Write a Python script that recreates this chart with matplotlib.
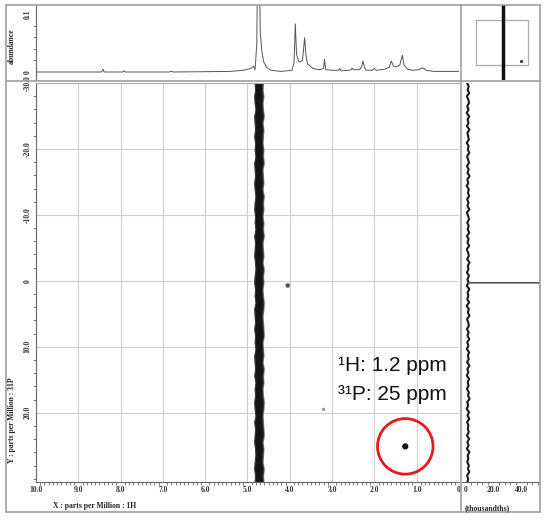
import numpy as np
import matplotlib.pyplot as plt
from matplotlib.lines import Line2D
from matplotlib.ticker import MultipleLocator, FixedLocator

# ---- data ----
# 1H projection (top): ppm and abundance
h_ppm = [10.0, 8.45, 8.42, 8.39, 7.95, 7.92, 7.89, 6.85, 6.80, 6.75, 5.40, 5.10,
         4.92, 4.86, 4.82, 4.78, 4.76, 4.72, 4.70, 4.66, 4.62, 4.55, 4.45, 4.20,
         3.95, 3.90, 3.87, 3.84, 3.78, 3.70, 3.65, 3.62, 3.58, 3.45, 3.30, 3.20,
         3.18, 3.15, 3.00, 2.85, 2.82, 2.79, 2.60, 2.55, 2.53, 2.50, 2.35, 2.30,
         2.27, 2.24, 2.20, 2.05, 2.00, 1.95, 1.75, 1.65, 1.60, 1.55, 1.48, 1.40,
         1.34, 1.30, 1.22, 1.10, 0.95, 0.90, 0.85, 0.78, 0.60, 0.0]
h_int = [0.000, 0.000, 0.005, 0.000, 0.000, 0.002, 0.000, 0.000, 0.001, 0.000, 0.001, 0.003,
         0.006, 0.010, 0.004, 0.050, 0.200, 0.200, 0.070, 0.036, 0.018, 0.008, 0.003, 0.001,
         0.003, 0.015, 0.083, 0.030, 0.017, 0.020, 0.059, 0.030, 0.014, 0.006, 0.004, 0.006,
         0.022, 0.004, 0.003, 0.003, 0.006, 0.002, 0.003, 0.004, 0.007, 0.004, 0.004, 0.010,
         0.019, 0.010, 0.003, 0.003, 0.006, 0.003, 0.005, 0.008, 0.019, 0.010, 0.009, 0.012,
         0.029, 0.012, 0.005, 0.003, 0.004, 0.006, 0.007, 0.003, 0.001, 0.001]

# t1-noise ridge at the solvent line (edges in 1H ppm, top to bottom along 31P)
ridge_left = [4.83, 4.82, 4.84, 4.83, 4.81, 4.84, 4.83, 4.82, 4.84, 4.82, 4.83, 4.81, 4.84,
              4.83, 4.82, 4.84, 4.83, 4.81, 4.83, 4.84, 4.82, 4.83, 4.81, 4.84, 4.82, 4.83,
              4.84, 4.82, 4.81, 4.83, 4.84, 4.82, 4.83, 4.81, 4.84, 4.83, 4.82, 4.84, 4.82,
              4.83, 4.81, 4.84, 4.83, 4.82, 4.84, 4.81, 4.83, 4.82, 4.84, 4.83, 4.81, 4.84,
              4.82, 4.83, 4.84, 4.82, 4.81, 4.83, 4.84, 4.82, 4.83]
ridge_right = [4.65, 4.66, 4.64, 4.66, 4.65, 4.63, 4.66, 4.64, 4.65, 4.66, 4.64, 4.65, 4.63,
               4.66, 4.65, 4.64, 4.66, 4.63, 4.65, 4.64, 4.66, 4.64, 4.65, 4.63, 4.66, 4.65,
               4.64, 4.66, 4.63, 4.65, 4.64, 4.66, 4.65, 4.63, 4.64, 4.66, 4.65, 4.64, 4.63,
               4.66, 4.65, 4.64, 4.66, 4.63, 4.65, 4.64, 4.66, 4.65, 4.63, 4.64, 4.66, 4.65,
               4.64, 4.63, 4.66, 4.64, 4.65, 4.66, 4.63, 4.65, 4.64]

# 31P projection (right), thousandths, top to bottom
proj_val = [0.8, 2.0, 1.1, 2.4, 0.6, 1.7, 2.2, 0.9, 1.9, 0.5, 2.3, 1.2, 1.8, 0.7, 2.5, 1.0, 1.6, 2.1, 0.6, 1.9,
            1.3, 2.4, 0.8, 1.5, 2.2, 0.7, 2.0, 1.1, 2.6, 0.9, 1.7, 0.5, 2.1, 1.4, 2.3, 0.8, 1.8, 1.0, 2.5, 0.6,
            1.6, 2.2, 0.9, 2.0, 1.2, 2.4, 0.7, 1.9, 1.1, 2.3, 0.6, 1.5, 2.1, 0.8, 2.6, 1.3, 1.8, 0.7, 2.2, 1.0,
            1.9, 0.6, 2.4, 1.2, 1.7, 0.9, 2.3, 0.5, 2.0, 1.4, 2.5, 0.8, 1.6, 2.1, 0.7, 1.9, 1.1, 2.4, 0.9, 1.8,
            0.6, 2.2, 1.3, 2.0, 0.8, 2.5, 1.0, 1.7, 0.6, 2.3, 1.2, 1.9, 0.7, 2.1, 1.5, 2.6, 0.9, 1.6, 0.5, 2.2,
            1.1, 2.4, 0.8, 1.8, 1.3, 2.0, 0.7, 2.3, 1.0, 1.9, 0.6, 2.5, 1.2, 1.7, 0.9, 2.1, 1.4, 2.4, 0.8, 1.6, 1.1]
spike_p = [0.27, 0.3, 0.33]
spike_val = [2.0, 300.0, 2.0]

# cross peaks (1H ppm, 31P ppm)
peak_h = [4.05, 3.2, 1.27]
peak_p = [0.7, 19.5, 25.1]
peak_s = [5, 2, 12]

x_ticks = [10, 9, 8, 7, 6, 5, 4, 3, 2, 1, 0]
x_labels = ['10.0', '9.0', '8.0', '7.0', '6.0', '5.0', '4.0', '3.0', '2.0', '1.0', '0']
y_ticks = [-30, -20, -10, 0, 10, 20]
y_labels = ['-30.0', '-20.0', '-10.0', '0', '10.0', '20.0']

# ---- layout ----
W, H = 550, 520
def rect(x0, y0, x1, y1):
    return [x0 / W, 1 - y1 / H, (x1 - x0) / W, (y1 - y0) / H]

fig = plt.figure(figsize=(5.5, 5.2), dpi=100)
fig.patch.set_facecolor('white')
tickfont = dict(family='Liberation Serif', weight='bold', size=5.5, color='#333333')
spc = '#666666'

ax = fig.add_axes(rect(36, 83, 459, 482))
top = fig.add_axes(rect(36, 5, 459, 80))
rgt = fig.add_axes(rect(462, 83, 540, 482))
cor = fig.add_axes(rect(462, 5, 540, 80))

P_LIM = (30.5, -30)
H_LIM = (10, 0)

# main 2D
ax.set_xlim(*H_LIM)
ax.set_ylim(*P_LIM)
ax.grid(True, color='#cfcfcf', lw=0.8)
ax.set_axisbelow(True)
ridge_p = np.linspace(-30, 30.5, len(ridge_left))
ax.fill_betweenx(ridge_p, np.array(ridge_left) + 0.015, np.array(ridge_right) - 0.03,
                 color='#777777', lw=0)
ax.fill_betweenx(ridge_p, ridge_left, ridge_right, color='#151515', lw=0.6,
                 edgecolor='#333333')
ax.scatter(peak_h, peak_p, s=peak_s, color=['#555555', '#999999', '#111111'], zorder=3)
ax.scatter([peak_h[2]], [peak_p[2]], s=1600, facecolors='none', edgecolors='#e41b1b',
           linewidths=2, zorder=4)
ax.text(0.3, 13.6, '\u00b9H: 1.2 ppm', ha='right', va='baseline',
        fontsize=15, family='Liberation Sans', color='#111111')
ax.text(0.3, 18.1, '\u00b3\u00b9P: 25 ppm', ha='right', va='baseline',
        fontsize=15, family='Liberation Sans', color='#111111')
ax.xaxis.set_major_locator(FixedLocator(x_ticks))
ax.set_xticklabels(x_labels, **tickfont)
ax.xaxis.set_minor_locator(MultipleLocator(0.1))
ax.yaxis.set_major_locator(FixedLocator(y_ticks))
ax.set_yticklabels(y_labels, rotation=90, va='center', **tickfont)
ax.yaxis.set_minor_locator(MultipleLocator(2))
ax.tick_params(which='both', color=spc, width=0.6, pad=3)
ax.tick_params(which='major', length=0)
ax.tick_params(which='minor', length=2)
ax.spines['right'].set_visible(False)
ax.spines['top'].set_color('#aaaaaa')
for s in ['left', 'bottom']:
    ax.spines[s].set_color(spc)
    ax.spines[s].set_linewidth(0.8)

# top 1H trace
top.plot(h_ppm, h_int, color='#555555', lw=0.7)
top.set_xlim(*H_LIM)
top.set_ylim(-0.0138, 0.1155)
top.set_xticks([])
top.yaxis.set_major_locator(FixedLocator([0, 0.1]))
top.set_yticklabels(['0', '0.1'], rotation=90, va='center', **tickfont)
top.yaxis.set_minor_locator(MultipleLocator(0.02))
top.tick_params(which='both', color=spc, width=0.6, pad=3)
top.tick_params(which='major', length=0)
top.tick_params(which='minor', length=2)
for s in ['top', 'right', 'bottom']:
    top.spines[s].set_visible(False)
top.spines['left'].set_color(spc)
top.spines['left'].set_linewidth(0.8)

# right 31P projection
proj_p = np.linspace(-30, 30.5, len(proj_val))
rgt.plot(proj_val, proj_p, color='#1a1a1a', lw=1.5)
rgt.plot(spike_val, spike_p, color='#555555', lw=0.7)
rgt.set_xlim(-2.9, 53.8)
rgt.set_ylim(*P_LIM)
rgt.set_yticks([])
rgt.xaxis.set_major_locator(FixedLocator([0, 20, 40]))
rgt.set_xticklabels(['0', '20.0', '40.0'], **tickfont)
rgt.xaxis.set_minor_locator(MultipleLocator(4))
rgt.tick_params(which='both', color=spc, width=0.6, pad=3)
rgt.tick_params(which='major', length=0)
rgt.tick_params(which='minor', length=2)
for s in ['top', 'right', 'left']:
    rgt.spines[s].set_visible(False)
rgt.spines['bottom'].set_color(spc)
rgt.spines['bottom'].set_linewidth(0.8)

# overview thumbnail
cor.set_xlim(12.7, -2.3)
cor.set_ylim(50.7, -50.2)
cor.plot([H_LIM[0], H_LIM[1], H_LIM[1], H_LIM[0], H_LIM[0]],
         [P_LIM[1], P_LIM[1], P_LIM[0], P_LIM[0], P_LIM[1]], color='#aaaaaa', lw=0.9)
cor.axvline(np.mean(ridge_left + ridge_right), color='#111111', lw=2.5)
cor.scatter([peak_h[2]], [peak_p[2]], s=1.5, color='#333333')
cor.axis('off')

# frame and dividers
def hline(y, x0, x1, c='#a0a0a0', lw=1.2):
    fig.add_artist(Line2D([x0 / W, x1 / W], [1 - y / H, 1 - y / H], color=c, lw=lw))
def vline(x, y0, y1, c='#a0a0a0', lw=1.2):
    fig.add_artist(Line2D([x / W, x / W], [1 - y0 / H, 1 - y1 / H], color=c, lw=lw))
hline(5, 6, 540)
hline(512, 6, 540)
vline(6, 5, 512)
vline(540, 5, 512)
hline(80.5, 6, 540)
vline(461, 5, 512)

lab = dict(family='Liberation Serif', weight='bold', size=5.5, color='#222222')
fig.text(12 / W, 1 - 46 / H, 'abundance', rotation=90, ha='center', va='center', **lab)
fig.text(12 / W, 1 - 463 / H, 'Y : parts per Million : 31P', rotation=90,
         ha='center', va='bottom', **lab)
fig.text(53 / W, 1 - 506 / H, 'X : parts per Million : 1H', ha='left', va='center', **lab)
fig.text(465 / W, 1 - 508 / H, '(thousandths)', ha='left', va='center', **lab)

fig.savefig('out.png', dpi=100)
